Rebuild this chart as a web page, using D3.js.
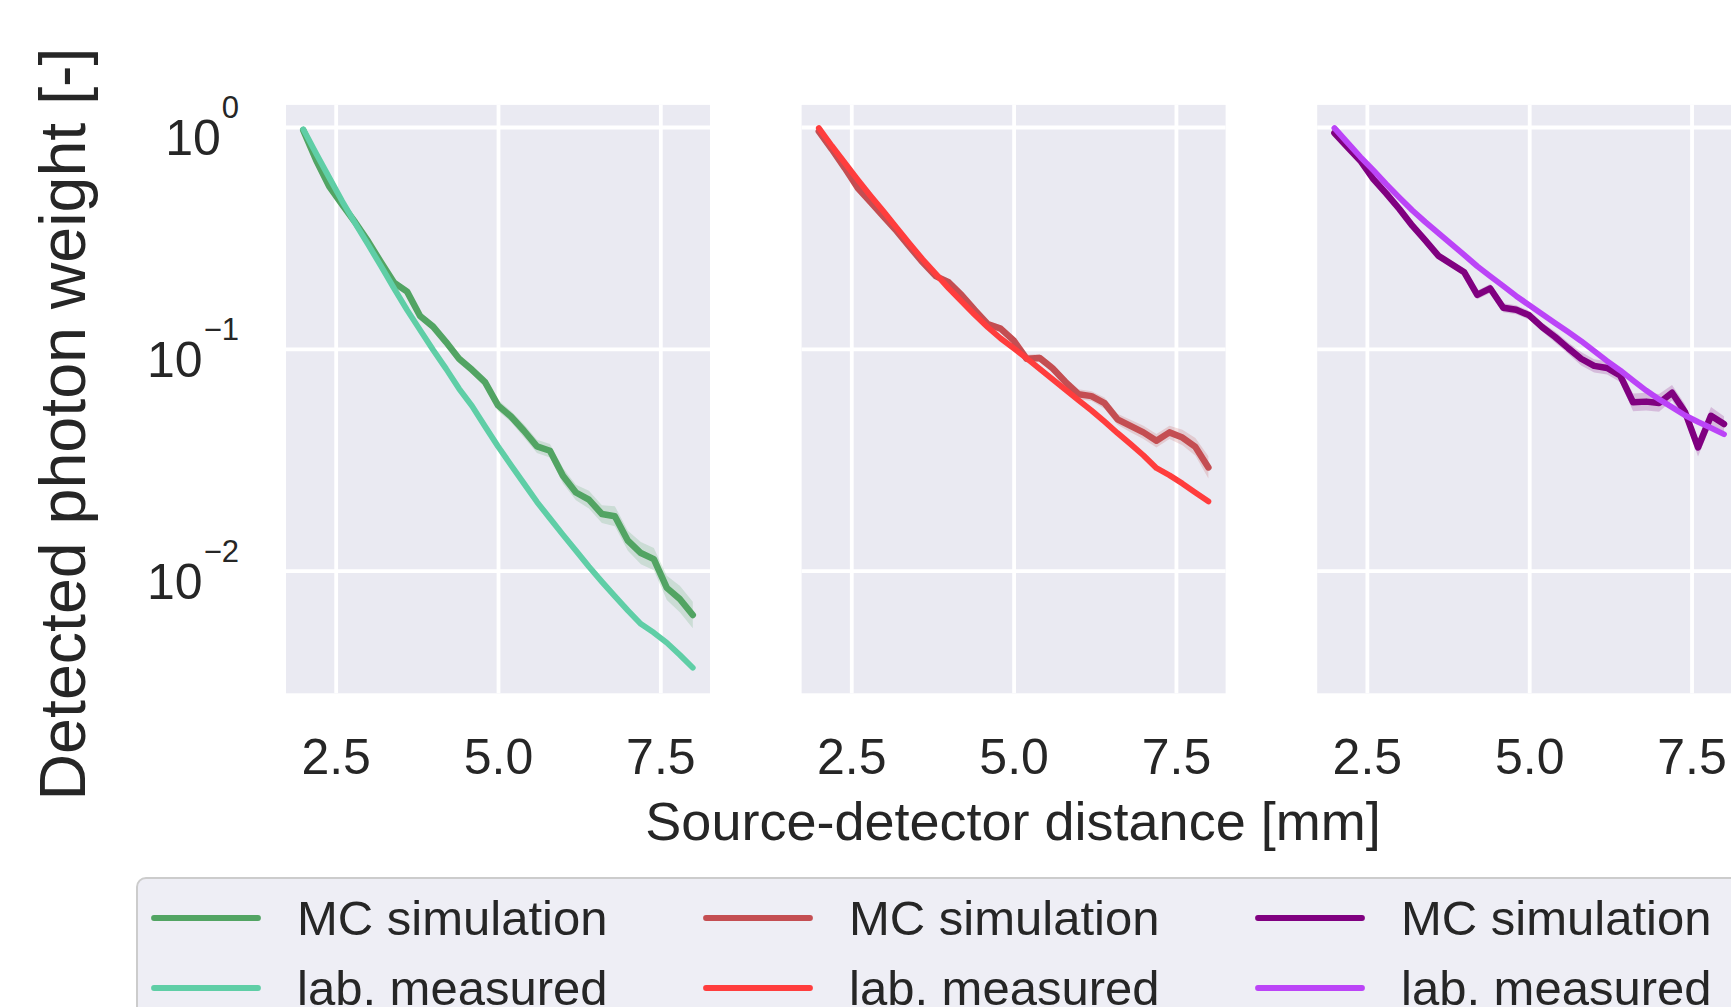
<!DOCTYPE html>
<html><head><meta charset="utf-8">
<script src="https://cdn.jsdelivr.net/npm/d3@7"></script>
<style>
html,body{margin:0;padding:0;background:#fff;overflow:hidden;}
svg{display:block;font-family:"Liberation Sans",Arial,Helvetica,sans-serif;}
</style></head><body>
<svg id="chart" width="1731" height="1007"></svg>
<script>
// ---- data ----
const distances = [2.0,2.2,2.4,2.6,2.8,3.0,3.2,3.4,3.6,3.8,4.0,4.2,4.4,4.6,4.8,5.0,5.2,5.4,5.6,5.8,6.0,6.2,6.4,6.6,6.8,7.0,7.2,7.4,7.6,7.8,8.0];

const mcGreen  = [0.968,0.708,0.540,0.447,0.372,0.305,0.245,0.1986,0.1811,0.1406,0.1259,0.1072,0.0902,0.0804,0.0708,0.0556,0.0495,0.0427,0.0363,0.0347,0.0268,0.0225,0.0209,0.0180,0.0176,0.01365,0.0120,0.01127,0.00836,0.00745,0.00631];
const labGreen = [0.977,0.759,0.592,0.463,0.368,0.295,0.2355,0.1871,0.1496,0.1216,0.0989,0.0813,0.0661,0.0552,0.0447,0.0363,0.0299,0.0247,0.0204,0.0172,0.01452,0.0123,0.01042,0.00891,0.00767,0.00661,0.00575,0.00525,0.00473,0.00417,0.00365];

const mcRed    = [0.955,0.794,0.653,0.531,0.457,0.394,0.339,0.288,0.2455,0.2128,0.1995,0.1746,0.1496,0.1294,0.1233,0.1091,0.0902,0.0910,0.0817,0.0708,0.0624,0.0612,0.0569,0.0481,0.0449,0.0420,0.0385,0.0420,0.0398,0.0361,0.0292];
const labRed   = [0.989,0.822,0.689,0.578,0.488,0.415,0.351,0.297,0.253,0.218,0.1875,0.1633,0.1426,0.1253,0.1114,0.1007,0.0906,0.0813,0.0729,0.0653,0.0586,0.0527,0.0470,0.0417,0.0372,0.0331,0.0290,0.0269,0.0247,0.0225,0.0205];

const mcPurple  = [0.940,0.813,0.705,0.582,0.501,0.427,0.359,0.308,0.263,0.241,0.2213,0.1750,0.1871,0.1531,0.1500,0.1416,0.1253,0.1130,0.1007,0.0902,0.0838,0.0820,0.0759,0.0574,0.0578,0.0570,0.0634,0.0519,0.0359,0.0499,0.0458];
const labPurple = [0.989,0.851,0.733,0.638,0.552,0.481,0.421,0.373,0.333,0.297,0.265,0.2355,0.2123,0.1919,0.1730,0.1574,0.1435,0.1306,0.1191,0.1084,0.0977,0.0881,0.0800,0.0719,0.0649,0.0592,0.0545,0.0501,0.0468,0.0440,0.0412];

// confidence band half-widths of the MC curves (in decades)
const ciGreen  = [0,0.005,0.008,0.01,0.01,0.01,0.012,0.012,0.015,0.015,0.015,0.018,0.02,0.02,0.022,0.025,0.025,0.03,0.03,0.03,0.035,0.035,0.04,0.04,0.045,0.045,0.05,0.05,0.055,0.06,0.06];
const ciRed    = [0,0.005,0.01,0.012,0.012,0.01,0.01,0.012,0.012,0.012,0.012,0.015,0.015,0.015,0.015,0.015,0.018,0.018,0.02,0.02,0.022,0.022,0.025,0.025,0.028,0.03,0.03,0.03,0.035,0.04,0.05];
const ciPurple = [0,0.005,0.008,0.01,0.012,0.015,0.015,0.02,0.015,0.015,0.015,0.02,0.02,0.02,0.02,0.02,0.02,0.025,0.025,0.03,0.03,0.03,0.03,0.04,0.04,0.04,0.035,0.035,0.04,0.04,0.035];

const seriesLabels = ["MC simulation", "lab. measured"];
const xTicks = [2.5, 5.0, 7.5];
const yTicks = [1, 0.1, 0.01];
const yTickExponents = ["0", "\u22121", "\u22122"];
const xTitle = "Source-detector distance [mm]";
const yTitle = "Detected photon weight [-]";

// ---- layout / styles ----
const colors = {
  green:  {mc: "#52a463", lab: "#5fcea6"},
  red:    {mc: "#c44e52", lab: "#ff3d3d"},
  purple: {mc: "#800080", lab: "#bb44f7"}
};
const panels = [
  {mc: mcGreen,  lab: labGreen,  ci: ciGreen,  col: colors.green},
  {mc: mcRed,    lab: labRed,    ci: ciRed,    col: colors.red},
  {mc: mcPurple, lab: labPurple, ci: ciPurple, col: colors.purple}
];

const panelTop = 104.9, panelBottom = 693.3, panelW = 424, firstLeft = 286, panelStep = 515.6;
const xDomain = [1.735, 8.265];
const yDomain = [Math.pow(10, -2.553), Math.pow(10, 0.0996)];
const textColor = "#262626";
const FONT = '"Liberation Sans",Arial,Helvetica,sans-serif';

const svg = d3.select("#chart");
svg.append("rect").attr("width", 1731).attr("height", 1007).attr("fill", "#ffffff");

const y = d3.scaleLog().domain(yDomain).range([panelBottom, panelTop]);

panels.forEach((p, i) => {
  const left = firstLeft + i * panelStep;
  const x = d3.scaleLinear().domain(xDomain).range([left, left + panelW]);
  const g = svg.append("g");

  g.append("rect").attr("x", left).attr("y", panelTop)
    .attr("width", panelW).attr("height", panelBottom - panelTop).attr("fill", "#eaeaf2");

  // vertical grid
  g.append("g").attr("transform", `translate(0,${panelBottom})`)
    .call(d3.axisBottom(x).tickValues(xTicks).tickSize(-(panelBottom - panelTop)).tickFormat(""))
    .call(s => { s.select(".domain").remove();
      s.selectAll("line").attr("stroke", "#ffffff").attr("stroke-width", 3.8); });
  // horizontal grid
  g.append("g").attr("transform", `translate(${left},0)`)
    .call(d3.axisLeft(y).tickValues(yTicks).tickSize(-panelW).tickFormat(""))
    .call(s => { s.select(".domain").remove();
      s.selectAll("line").attr("stroke", "#ffffff").attr("stroke-width", 3.8); });

  const clipId = "clip" + i;
  svg.append("clipPath").attr("id", clipId).append("rect")
    .attr("x", left).attr("y", panelTop).attr("width", panelW).attr("height", panelBottom - panelTop);
  const plot = g.append("g").attr("clip-path", `url(#${clipId})`);

  const mcData = distances.map((d, k) => ({d, v: p.mc[k], c: p.ci[k]}));
  const labData = distances.map((d, k) => ({d, v: p.lab[k]}));

  const area = d3.area()
    .x(q => x(q.d))
    .y0(q => y(q.v * Math.pow(10, -q.c)))
    .y1(q => y(q.v * Math.pow(10, q.c)));
  plot.append("path").datum(mcData).attr("d", area)
    .attr("fill", p.col.mc).attr("fill-opacity", 0.2);

  const line = d3.line().x(q => x(q.d)).y(q => y(q.v));
  plot.append("path").datum(mcData).attr("d", line)
    .attr("fill", "none").attr("stroke", p.col.mc).attr("stroke-width", 6.5)
    .attr("stroke-linejoin", "round").attr("stroke-linecap", "round");
  plot.append("path").datum(labData).attr("d", line)
    .attr("fill", "none").attr("stroke", p.col.lab).attr("stroke-width", 5.8)
    .attr("stroke-linejoin", "round").attr("stroke-linecap", "round");

  // x tick labels
  g.append("g").attr("transform", `translate(0,${panelBottom})`)
    .call(d3.axisBottom(x).tickValues(xTicks).tickSize(0).tickFormat(d3.format(".1f")))
    .call(s => { s.select(".domain").remove();
      s.attr("font-size", null).attr("font-family", null);
      s.selectAll("text").attr("y", 81).attr("dy", null)
        .attr("font-size", 50).attr("font-family", FONT).attr("fill", textColor); });

  // y tick labels (first panel only)
  if (i === 0) {
    g.append("g").attr("transform", `translate(${left},0)`)
      .call(d3.axisLeft(y).tickValues(yTicks).tickSize(0).tickFormat(() => ""))
      .call(s => { s.select(".domain").remove();
        s.attr("font-size", null).attr("font-family", null);
        s.selectAll("text").each(function(d, k) {
          const t = d3.select(this);
          t.text(null).attr("x", -47).attr("y", 28).attr("dy", null)
            .attr("text-anchor", "end").attr("font-family", FONT).attr("fill", textColor);
          t.append("tspan").attr("font-size", 50).text("10");
          t.append("tspan").attr("font-size", 31).attr("dx", 1).attr("dy", -37).text(yTickExponents[k]);
        }); });
  }
});

// axis titles
svg.append("text").attr("x", 1013).attr("y", 840).attr("text-anchor", "middle")
  .attr("font-size", 54).attr("font-family", FONT).attr("fill", textColor).text(xTitle);
svg.append("text").attr("transform", "translate(85,424) rotate(-90)").attr("text-anchor", "middle")
  .attr("font-size", 64.5).attr("font-family", FONT).attr("fill", textColor).text(yTitle);

// legend
const legend = svg.append("g");
legend.append("rect").attr("x", 137).attr("y", 878).attr("width", 1700).attr("height", 220)
  .attr("rx", 9).attr("fill", "#eaeaf2").attr("fill-opacity", 0.8)
  .attr("stroke", "#cccccc").attr("stroke-width", 2);
const legendCols = [154, 706, 1258];
const legendRows = [918, 988];
panels.forEach((p, i) => {
  [p.col.mc, p.col.lab].forEach((c, r) => {
    const lx = legendCols[i], ly = legendRows[r];
    legend.append("line").attr("x1", lx).attr("x2", lx + 104).attr("y1", ly).attr("y2", ly)
      .attr("stroke", c).attr("stroke-width", 5.8).attr("stroke-linecap", "round");
    legend.append("text").attr("x", lx + 143).attr("y", ly + 17)
      .attr("font-size", 49).attr("font-family", FONT).attr("fill", textColor)
      .text(seriesLabels[r]);
  });
});
</script>
</body></html>
